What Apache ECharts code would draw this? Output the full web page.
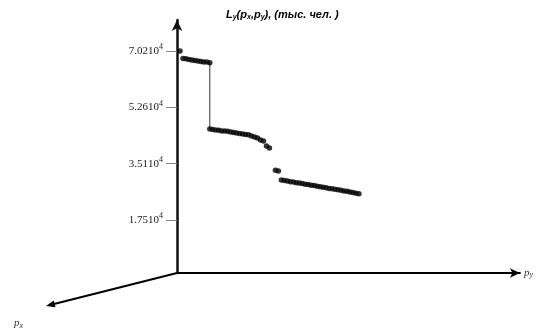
<!DOCTYPE html>
<html>
<head>
<meta charset="utf-8">
<script src="https://cdn.jsdelivr.net/npm/echarts@6/dist/echarts.min.js"></script>
<style>
  html, body { margin: 0; padding: 0; background: #fff; }
  #chart { width: 536px; height: 332px; }
</style>
</head>
<body>
<div id="chart"></div>
<script>
// L_y values in units of 10^4 persons, p_y as step index
const firstPoint = [[1, 7.02]];
const upperStep = [[2, 6.79], [3, 6.78], [4, 6.76], [5, 6.74], [6, 6.73], [7, 6.71], [8, 6.70], [9, 6.68], [10, 6.68], [11, 6.66]];
const middleStep = [[11, 4.59], [12, 4.58], [13, 4.56], [14, 4.55], [15, 4.53], [16, 4.53], [17, 4.52], [18, 4.50], [19, 4.48],
  [20, 4.47], [21, 4.45], [22, 4.44], [23, 4.42], [24, 4.41], [25, 4.37], [26, 4.34], [27, 4.31], [28, 4.25], [29, 4.22],
  [30, 4.06], [31, 4.00]];
const lowerStep = [[33, 3.31], [34, 3.28], [35, 3.00], [36, 2.99], [37, 2.97], [38, 2.95], [39, 2.94], [40, 2.92], [41, 2.91],
  [42, 2.89], [43, 2.87], [44, 2.86], [45, 2.84], [46, 2.83], [47, 2.81], [48, 2.79], [49, 2.78], [50, 2.76], [51, 2.74],
  [52, 2.73], [53, 2.71], [54, 2.70], [55, 2.68], [56, 2.66], [57, 2.65], [58, 2.63], [59, 2.61], [60, 2.59], [61, 2.57]];
const jumpLine = [[11, 6.66], [11, 4.59]];

const yTicks = [1.755, 3.51, 5.265, 7.02];
const yTickLabels = ['1.75', '3.51', '5.26', '7.02'];

const chart = echarts.init(document.getElementById('chart'));

const dotSeries = (data) => ({
  type: 'scatter',
  data: data,
  symbolSize: 5.5,
  itemStyle: { color: '#000' },
  silent: true,
  z: 3,
});

chart.setOption({
  animation: false,
  title: {
    text: '{b|L}{s|y}{b|(p}{s|x}{b|,p}{s|y}{b|), (тыс. чел. )}',
    left: 221,
    top: 3,
    textStyle: {
      rich: {
        b: { fontFamily: 'Liberation Sans', fontSize: 11, fontWeight: 'bold', fontStyle: 'italic', color: '#000' },
        s: { fontFamily: 'Liberation Sans', fontSize: 7, fontWeight: 'bold', fontStyle: 'italic', color: '#000', padding: [6, 0, 0, 0] },
      },
    },
  },
  grid: { left: 177, right: 13, top: 20, bottom: 59 },
  xAxis: {
    type: 'value',
    min: 0,
    max: 115,
    name: '{p|p}{s|y}',
    nameLocation: 'end',
    nameGap: 4,
    nameTextStyle: {
      rich: {
        p: { fontFamily: 'Liberation Serif', fontSize: 11, fontStyle: 'italic', color: '#333' },
        s: { fontFamily: 'Liberation Serif', fontSize: 8, fontStyle: 'italic', color: '#333', padding: [4, 0, 0, 0] },
      },
    },
    axisLine: {
      show: true,
      symbol: ['none', 'arrow'],
      symbolSize: [7, 10],
      lineStyle: { color: '#000', width: 2 },
    },
    axisTick: { show: false },
    axisLabel: { show: false },
    splitLine: { show: false },
  },
  yAxis: {
    type: 'value',
    min: 0.103,
    max: 7.99,
    axisLine: {
      show: true,
      symbol: ['none', 'arrow'],
      symbolSize: [8, 11],
      lineStyle: { color: '#111', width: 2.5 },
    },
    axisTick: {
      show: true,
      length: 11,
      customValues: yTicks,
      lineStyle: { color: '#888', width: 1 },
    },
    axisLabel: {
      show: true,
      customValues: yTicks,
      margin: 14,
      formatter: (v) => {
        const i = yTicks.findIndex((t) => Math.abs(t - v) < 1e-6);
        return i < 0 ? '' : '{n|' + yTickLabels[i] + '}{e|10}{p|4}';
      },
      rich: {
        n: { fontFamily: 'Liberation Serif', fontSize: 11, color: '#222' },
        e: { fontFamily: 'Liberation Serif', fontSize: 11, color: '#222' },
        p: { fontFamily: 'Liberation Serif', fontSize: 8, color: '#222', padding: [0, 0, 8, 0] },
      },
    },
    splitLine: { show: false },
  },
  graphic: [
    {
      type: 'line',
      shape: { x1: 177, y1: 273, x2: 54, y2: 304 },
      style: { stroke: '#000', lineWidth: 2 },
    },
    {
      type: 'polygon',
      shape: { points: [[46, 306], [55.5, 307.2], [53.8, 300.6]] },
      style: { fill: '#000' },
    },
    {
      type: 'text',
      left: 14,
      top: 318,
      style: {
        text: '{p|p}{s|x}',
        rich: {
          p: { fontFamily: 'Liberation Serif', fontSize: 11, fontStyle: 'italic', fill: '#333' },
          s: { fontFamily: 'Liberation Serif', fontSize: 8, fontStyle: 'italic', fill: '#333', padding: [4, 0, 0, 0] },
        },
      },
    },
  ],
  series: [
    {
      type: 'line',
      data: jumpLine,
      symbol: 'none',
      lineStyle: { color: '#333', width: 1 },
      silent: true,
      z: 2,
    },
    dotSeries(firstPoint),
    dotSeries(upperStep),
    dotSeries(middleStep),
    dotSeries(lowerStep),
  ],
});
</script>
</body>
</html>
